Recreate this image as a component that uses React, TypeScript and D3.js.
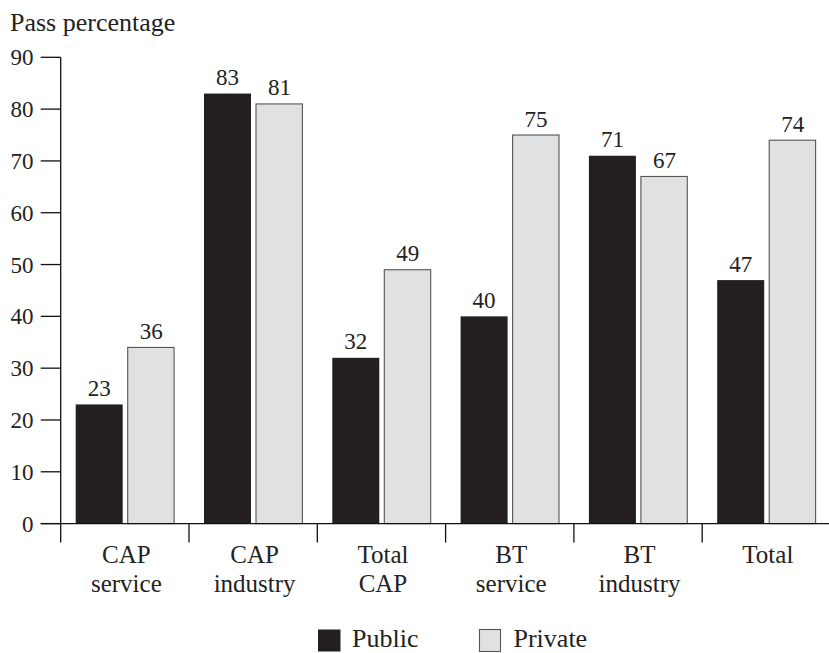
import React from "react";
import * as d3 from "d3";

const categories: string[][] = [
  ["CAP", "service"],
  ["CAP", "industry"],
  ["Total", "CAP"],
  ["BT", "service"],
  ["BT", "industry"],
  ["Total"],
];
const publicValues = [23, 83, 32, 40, 71, 47];
const privateValues = [34, 81, 49, 75, 67, 74];
const publicLabels = ["23", "83", "32", "40", "71", "47"];
const privateLabels = ["36", "81", "49", "75", "67", "74"];
const yTicks = [0, 10, 20, 30, 40, 50, 60, 70, 80, 90];
const seriesNames = ["Public", "Private"];

const W = 829;
const H = 653;
const FONT = "'Liberation Serif', 'Times New Roman', serif";
const DARK = "#231f20";
const LIGHT = "#e0e1e3";

export default function App() {
  const x0 = 60.7;
  const band = 128.3;
  const x = d3
    .scaleBand<number>()
    .domain(d3.range(categories.length))
    .range([x0, x0 + band * categories.length])
    .padding(0);
  const y = d3.scaleLinear().domain([0, 90]).range([523.6, 57.3]);
  const barW = 47;
  const pubOff = 15;
  const privOff = 67;

  return (
    <svg
      width={W}
      height={H}
      style={{ position: "absolute", left: 0, top: 0, background: "#fff" }}
      fontFamily={FONT}
    >
      <text x={10} y={31} fontSize={26} fill="#222">
        Pass percentage
      </text>
      {/* bars */}
      {publicValues.map((v, i) => (
        <g key={"b" + i}>
          <rect
            x={(x(i) as number) + pubOff}
            y={y(v)}
            width={barW}
            height={y(0) - y(v)}
            fill={DARK}
          />
          <text
            x={(x(i) as number) + pubOff + barW / 2}
            y={y(v) - 8.5}
            textAnchor="middle"
            fontSize={23}
            fill="#222"
          >
            {publicLabels[i]}
          </text>
          <rect
            x={(x(i) as number) + privOff}
            y={y(privateValues[i])}
            width={barW - 0.6}
            height={y(0) - y(privateValues[i])}
            fill={LIGHT}
            stroke="#555"
            strokeWidth={1.1}
          />
          <text
            x={(x(i) as number) + privOff + barW / 2}
            y={y(privateValues[i]) - 8.5}
            textAnchor="middle"
            fontSize={23}
            fill="#222"
          >
            {privateLabels[i]}
          </text>
        </g>
      ))}
      {/* y axis */}
      <line x1={x0} x2={x0} y1={y(90)} y2={y(0)} stroke="#111" strokeWidth={1.3} />
      {yTicks.map((t) => (
        <g key={"t" + t}>
          <line x1={40.7} x2={x0} y1={y(t)} y2={y(t)} stroke="#111" strokeWidth={1.3} />
          <text x={33.5} y={y(t) + 8} textAnchor="end" fontSize={23} fill="#222">
            {t}
          </text>
        </g>
      ))}
      {/* x axis */}
      <line x1={x0 - 20} x2={W} y1={y(0)} y2={y(0)} stroke="#111" strokeWidth={1.3} />
      {categories.map((c, i) => (
        <g key={"c" + i}>
          <line
            x1={x(i) as number}
            x2={x(i) as number}
            y1={y(0)}
            y2={y(0) + 19}
            stroke="#111"
            strokeWidth={1.3}
          />
          {c.map((line, j) => (
            <text
              key={j}
              x={(x(i) as number) + band / 2 + 1.5}
              y={563 + j * 29}
              textAnchor="middle"
              fontSize={25}
              fill="#222"
            >
              {line}
            </text>
          ))}
        </g>
      ))}
      {/* legend */}
      {seriesNames.map((s, i) => {
        const lx = i === 0 ? 318 : 479.5;
        return (
          <g key={"l" + i}>
            <rect
              x={lx}
              y={629.5}
              width={i === 0 ? 22.5 : 21}
              height={22}
              fill={i === 0 ? DARK : LIGHT}
              stroke={i === 0 ? "none" : "#555"}
              strokeWidth={1.1}
            />
            <text x={lx + 34} y={646.5} fontSize={26} fill="#222">
              {s}
            </text>
          </g>
        );
      })}
    </svg>
  );
}
